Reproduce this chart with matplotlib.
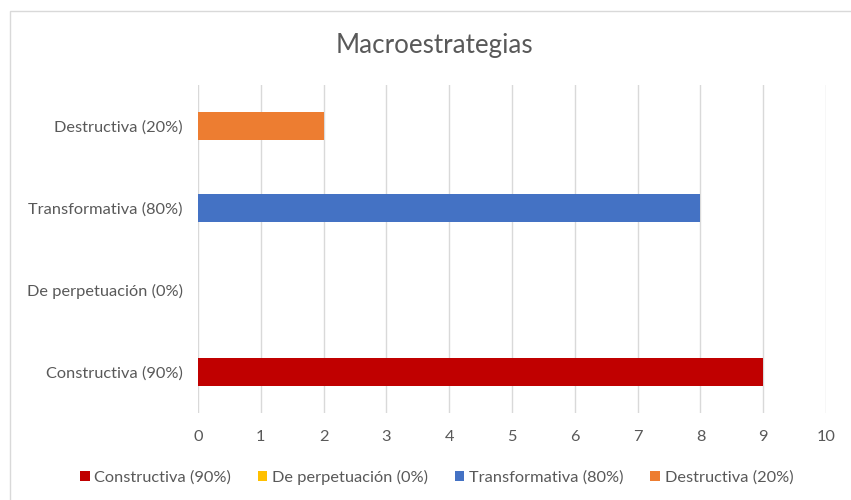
import numpy as np
import matplotlib.pyplot as plt
from matplotlib.patches import Patch, Rectangle

plt.rcParams['font.family'] = ['Lato', 'DejaVu Sans']

categories = ['Constructiva (90%)', 'De perpetuación (0%)', 'Transformativa (80%)', 'Destructiva (20%)']
values = [9, 0, 8, 2]
colors = ['#C00000', '#FFC000', '#4472C4', '#ED7D31']
xticks = list(range(0, 11))

text_color = '#595959'
grid_color = '#D9D9D9'

fig = plt.figure(figsize=(8.51, 5.0), dpi=100)
ax = fig.add_axes([0.2327, 0.174, 0.738, 0.656])

# outer chart border (top and left visible)
fig.add_artist(Rectangle((10 / 851, -0.1), 1.0, 1.1 - 11 / 500,
                         transform=fig.transFigure, fill=False,
                         edgecolor='#D9D9D9', linewidth=1.0))

y = np.arange(len(categories))
ax.barh(y, values, height=0.35, color=colors, zorder=3)

ax.set_xlim(0, 10)
ax.set_ylim(-0.5, 3.5)
ax.set_xticks(xticks)
ax.set_yticks(y)
ax.set_yticklabels(categories)
ax.tick_params(axis='both', length=0, colors=text_color, labelsize=11.8)
ax.tick_params(axis='y', pad=11)
ax.tick_params(axis='x', pad=12)
ax.grid(axis='x', color=grid_color, linewidth=1.0, zorder=0)
for s in ax.spines.values():
    s.set_visible(False)

fig.text(0.511, 0.91, 'Macroestrategias', ha='center', va='center',
         fontsize=18.7, color=text_color)

handles = [Patch(facecolor=c) for c in colors]
fig.legend(handles, categories, loc='center', bbox_to_anchor=(0.513, 0.046),
           ncol=4, frameon=False, fontsize=11.8, labelcolor=text_color,
           handlelength=0.6, handleheight=0.6, handletextpad=0.3,
           columnspacing=1.6)

fig.savefig('out.png', dpi=100)
